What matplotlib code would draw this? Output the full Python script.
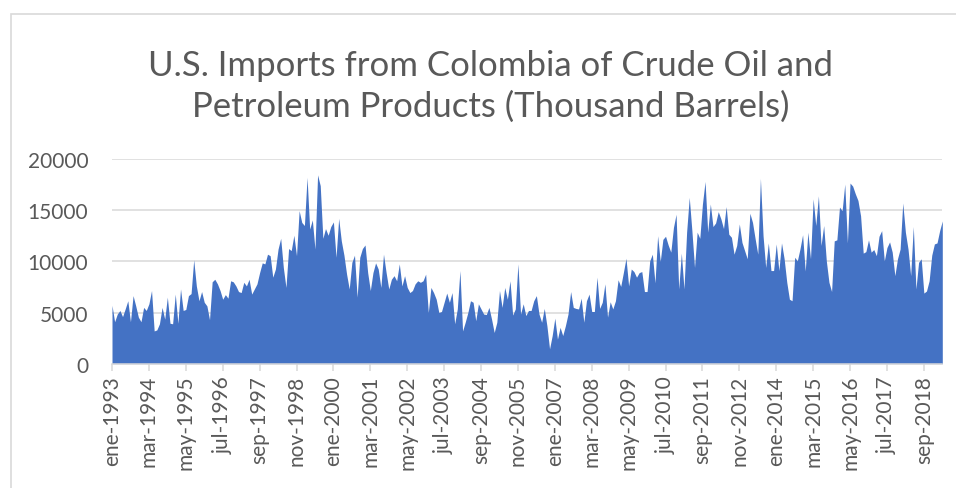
import matplotlib
matplotlib.use("Agg")
import matplotlib.pyplot as plt
from matplotlib.patches import Rectangle
import numpy as np

title = "U.S. Imports from Colombia of Crude Oil and\nPetroleum Products (Thousand Barrels)"

# Monthly values, Jan 1993 .. Apr 2019 (thousand barrels)
imports = [
    5700, 4100, 4850, 5200, 4600, 5350, 6150, 4100, 6650, 5650, 4550, 4100,
    5500, 5200, 5850, 7150, 3200, 3300, 3900, 5500, 4350, 6500, 3950, 3900,
    6800, 3950, 7300, 5200, 5300, 6650, 6850, 10150, 7600, 6150, 7050, 6000,
    5650, 4300, 8000, 8250, 7800, 7150, 6300, 6750, 6400, 8100, 8000, 7600,
    7050, 6950, 7950, 7600, 8250, 6800, 7300, 7800, 8900, 9850, 9750, 10700,
    10550, 8450, 9250, 11200, 12250, 9400, 7450, 11250, 11050, 12550, 10550, 14950,
    13800, 13500, 18200, 13150, 14050, 11200, 18450, 17400, 12250, 13200, 12550, 13400,
    13850, 10400, 14200, 12000, 10600, 8750, 7300, 9900, 10600, 6500, 10400, 11250,
    11600, 8900, 7150, 8900, 9850, 9250, 7450, 10700, 8900, 7300, 8250, 8600,
    8100, 9750, 7600, 8600, 7450, 6950, 7150, 7800, 8100, 7950, 8100, 8750,
    5000, 7450, 6950, 6300, 5000, 5100, 6000, 6900, 6000, 6950, 3900, 5350,
    9100, 3200, 4050, 5000, 6150, 6000, 4200, 5850, 5350, 4850, 4800, 5500,
    4350, 3050, 4050, 7150, 5500, 7450, 6300, 8100, 4750, 5350, 9750, 4850,
    5850, 4700, 5200, 5200, 6150, 6650, 4850, 4050, 5400, 3700, 1450, 2750,
    4450, 2400, 3550, 2750, 3700, 4850, 7050, 5500, 5400, 5350, 6400, 4050,
    6150, 6800, 5100, 5100, 8450, 5400, 6000, 7800, 4550, 6050, 5350, 6150,
    8200, 7550, 8900, 10300, 7600, 9250, 9000, 8450, 8900, 9000, 7050, 7050,
    10050, 10700, 7900, 12500, 10000, 12150, 12450, 11600, 10900, 13300, 14600, 7300,
    10800, 7300, 12850, 16250, 13000, 9400, 12850, 12250, 15600, 17800, 12850, 15600,
    13400, 13750, 14850, 14150, 13200, 15350, 12650, 12350, 10700, 11550, 13650, 11850,
    11050, 10250, 14700, 13800, 12200, 10700, 18100, 12500, 9400, 11800, 9100, 9100,
    11700, 9100, 11800, 10250, 7950, 6300, 6150, 10400, 10050, 11200, 12600, 9050,
    12850, 10250, 16100, 13500, 16400, 11550, 13500, 10050, 7950, 7050, 12000, 12100,
    15300, 14950, 17550, 11800, 17650, 17350, 16600, 15950, 14450, 10800, 10950, 12100,
    10900, 11150, 10550, 12450, 13000, 10050, 11350, 11900, 10900, 8600, 10250, 11200,
    15700, 12850, 11200, 8600, 13400, 7300, 9900, 10250, 6900, 7100, 8100, 10600,
    11700, 11800, 13000, 13950,
]

tick_labels = ["ene-1993", "mar-1994", "may-1995", "jul-1996", "sep-1997", "nov-1998",
               "ene-2000", "mar-2001", "may-2002", "jul-2003", "sep-2004", "nov-2005",
               "ene-2007", "mar-2008", "may-2009", "jul-2010", "sep-2011", "nov-2012",
               "ene-2014", "mar-2015", "may-2016", "jul-2017", "sep-2018"]
tick_step = 14  # months between labelled ticks
y_ticks = [0, 5000, 10000, 15000, 20000]

FONT = ["Lato", "DejaVu Sans"]
TXT = "#595959"
GRID = "#d9d9d9"

W, H = 956, 489
fig = plt.figure(figsize=(W / 100, H / 100), dpi=100)
fig.patch.set_facecolor("white")

# chart border
fig.patches.append(Rectangle((11 / W, -0.1), 2, 1 - 15 / H + 0.1, transform=fig.transFigure,
                             facecolor="none", edgecolor=GRID, linewidth=1.2))

x0, x1 = 112, 942.3
yb, yt = 364.7, 160
ax = fig.add_axes([x0 / W, (H - yb) / H, (x1 - x0) / W, (yb - yt) / H])

x = np.arange(len(imports))
ax.fill_between(x, imports, 0, color="#4472C4", linewidth=0, zorder=3)

ax.set_xlim(0, len(imports) - 1)
ax.set_ylim(0, 20000)
ax.set_yticks(y_ticks)
ax.set_yticklabels([str(v) for v in y_ticks], fontfamily=FONT, fontsize=15, color=TXT)
ax.tick_params(axis="y", length=0, pad=17)
ax.grid(axis="y", color=GRID, linewidth=1.1, zorder=0)

tick_pos = np.arange(len(tick_labels)) * tick_step
ax.set_xticks(tick_pos)
ax.set_xticklabels(tick_labels, rotation=90, fontfamily=FONT, fontsize=15, color=TXT,
                   va="top", ha="center")
ax.tick_params(axis="x", length=5, width=1.1, color=GRID, pad=3, direction="out")

for s in ["top", "right", "left"]:
    ax.spines[s].set_visible(False)
ax.spines["bottom"].set_color(GRID)
ax.spines["bottom"].set_linewidth(1.1)
ax.spines["bottom"].set_zorder(4)

fig.text(491 / W, 1 - 86 / H, title, ha="center", va="center", fontfamily=FONT,
         fontsize=25, color=TXT, linespacing=1.33, fontweight="normal")

fig.savefig("out.png", dpi=100, facecolor="white")
